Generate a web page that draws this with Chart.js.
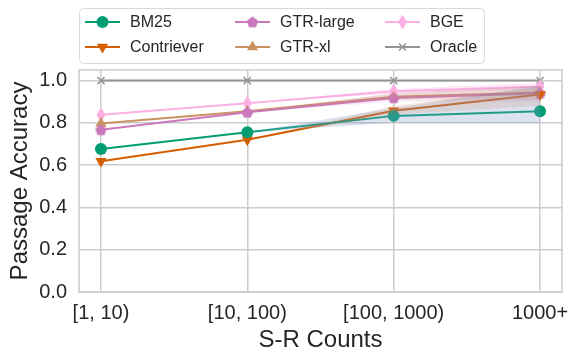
<!DOCTYPE html>
<html>
<head>
<meta charset="utf-8">
<script src="https://cdn.jsdelivr.net/npm/chart.js@4.4.1/dist/chart.umd.min.js"></script>
<style>
  html, body { margin: 0; padding: 0; background: #fff; }
  #wrap { width: 569px; height: 350px; position: relative; }
</style>
</head>
<body>
<div id="wrap"><canvas id="myChart" width="569" height="350"></canvas></div>
<script>
const categories = ['[1, 10)', '[10, 100)', '[100, 1000)', '1000+'];
const yTicks = [0.0, 0.2, 0.4, 0.6, 0.8, 1.0];

const bm25 = [0.676, 0.756, 0.833, 0.855];
const contriever = [0.618, 0.72, 0.857, 0.934];
const gtrLarge = [0.767, 0.85, 0.918, 0.94];
const gtrXl = [0.797, 0.855, 0.923, 0.943];
const bge = [0.838, 0.893, 0.95, 0.972];
const oracle = [1.0, 1.0, 1.0, 1.0];

// confidence bands (lower / upper)
const bm25Lo = [0.676, 0.756, 0.80, 0.80];
const bm25Hi = [0.676, 0.756, 0.87, 0.975];
const contrieverLo = [0.618, 0.72, 0.84, 0.88];
const contrieverHi = [0.618, 0.72, 0.88, 0.97];
const gtrLargeLo = [0.767, 0.85, 0.90, 0.90];
const gtrLargeHi = [0.767, 0.85, 0.94, 0.975];
const gtrXlLo = [0.797, 0.855, 0.91, 0.91];
const gtrXlHi = [0.797, 0.855, 0.94, 0.975];
const bgeLo = [0.838, 0.893, 0.94, 0.955];
const bgeHi = [0.838, 0.893, 0.96, 0.99];

const textColor = '#262626';
const gridColor = '#cccccc';
const fontFamily = '"Liberation Sans", Arial, sans-serif';

function makeMarker(shape, color) {
    const c = document.createElement('canvas');
    let w, h;
    if (shape === 'pentagon') { w = 13; h = 13; } else { w = 10; h = 16; }
    c.width = w; c.height = h;
    const g = c.getContext('2d');
    g.fillStyle = color;
    g.beginPath();
    if (shape === 'pentagon') {
        const r = 6;
        for (let i = 0; i < 5; i++) {
            const a = -Math.PI / 2 + i * 2 * Math.PI / 5;
            const px = w / 2 + r * Math.cos(a);
            const py = h / 2 + 0.5 + r * Math.sin(a);
            if (i === 0) g.moveTo(px, py); else g.lineTo(px, py);
        }
    } else {
        g.moveTo(w / 2, 0.5);
        g.lineTo(w - 0.5, h / 2);
        g.lineTo(w / 2, h - 0.5);
        g.lineTo(0.5, h / 2);
    }
    g.closePath();
    g.fill();
    return c;
}

function pts(arr) {
    return arr.map((v, i) => ({ x: i, y: v }));
}

const series = [
    { label: 'BM25', data: bm25, color: '#029e73', style: 'circle', radius: 6 },
    { label: 'Contriever', data: contriever, color: '#d55e00', style: 'triangle', radius: 6.5, rotation: 180 },
    { label: 'GTR-large', data: gtrLarge, color: '#cc78bc', style: makeMarker('pentagon', '#cc78bc'), radius: 6 },
    { label: 'GTR-xl', data: gtrXl, color: '#ca9161', style: 'triangle', radius: 6.5 },
    { label: 'BGE', data: bge, color: '#fbafe4', style: makeMarker('diamond', '#fbafe4'), radius: 7 },
    { label: 'Oracle', data: oracle, color: '#949494', style: 'crossRot', radius: 5 }
];

const bands = [
    { lo: bm25Lo, hi: bm25Hi, color: 'rgba(130,150,200,0.28)' },
    { lo: contrieverLo, hi: contrieverHi, color: 'rgba(213,94,0,0.14)' },
    { lo: gtrLargeLo, hi: gtrLargeHi, color: 'rgba(204,120,188,0.15)' },
    { lo: gtrXlLo, hi: gtrXlHi, color: 'rgba(202,145,97,0.2)' },
    { lo: bgeLo, hi: bgeHi, color: 'rgba(251,175,228,0.25)' }
];

const datasets = [];
bands.forEach(b => {
    datasets.push({ data: pts(b.lo), borderWidth: 0, pointRadius: 0, fill: false });
    datasets.push({ data: pts(b.hi), borderWidth: 0, pointRadius: 0, fill: '-1', backgroundColor: b.color });
});
series.forEach(s => {
    datasets.push({
        label: s.label,
        data: pts(s.data),
        borderColor: s.color,
        backgroundColor: s.color,
        borderWidth: 2,
        pointStyle: s.style,
        pointRadius: s.radius,
        pointRotation: s.rotation || 0,
        pointBorderWidth: s.style === 'crossRot' ? 1.5 : 0,
        pointBorderColor: s.color,
        pointBackgroundColor: s.color,
        fill: false
    });
});

const framePlugin = {
    id: 'frame',
    afterDraw(chart) {
        const ctx = chart.ctx;
        const a = chart.chartArea;
        ctx.save();
        ctx.strokeStyle = gridColor;
        ctx.lineWidth = 1.5;
        ctx.strokeRect(a.left, a.top, a.right - a.left, a.bottom - a.top);

        // legend box
        const lx = 79, ly = 8, lw = 405, lh = 55;
        ctx.fillStyle = '#fff';
        ctx.strokeStyle = '#d9d9d9';
        ctx.lineWidth = 1;
        ctx.beginPath();
        ctx.roundRect(lx + 0.5, ly + 0.5, lw, lh, 4);
        ctx.fill();
        ctx.stroke();

        const order = [0, 2, 4, 1, 3, 5];
        const colX = [85, 235, 385];
        const rowY = [22, 47];
        ctx.font = '16px ' + fontFamily;
        ctx.textBaseline = 'middle';
        order.forEach((si, k) => {
            const s = series[si];
            const x0 = colX[k % 3];
            const y0 = rowY[Math.floor(k / 3)];
            ctx.strokeStyle = s.color;
            ctx.lineWidth = 2;
            ctx.beginPath();
            ctx.moveTo(x0, y0);
            ctx.lineTo(x0 + 35, y0);
            ctx.stroke();
            ctx.fillStyle = s.color;
            ctx.lineWidth = 1.5;
            Chart.helpers.drawPoint(ctx, {
                pointStyle: s.style,
                radius: s.radius,
                rotation: s.rotation || 0,
                borderWidth: s.style === 'crossRot' ? 1.5 : 0
            }, x0 + 17.5, y0);
            ctx.fillStyle = textColor;
            ctx.fillText(s.label, x0 + 45, y0 + 1);
        });
        ctx.restore();
    }
};

const ctx = document.getElementById('myChart');
new Chart(ctx, {
    type: 'line',
    data: { datasets: datasets },
    options: {
        responsive: false,
        animation: false,
        layout: { padding: { top: 70, right: 6, left: 0, bottom: 0 } },
        plugins: {
            legend: { display: false },
            tooltip: { enabled: false }
        },
        scales: {
            x: {
                type: 'linear',
                min: -0.15,
                max: 3.15,
                afterBuildTicks: s => { s.ticks = categories.map((c, i) => ({ value: i })); },
                afterFit: s => { s.height = 58; s.paddingLeft = 0; s.paddingRight = 0; },
                grid: { color: gridColor, lineWidth: 1.5, drawTicks: false },
                border: { display: false },
                ticks: {
                    padding: 9,
                    color: textColor,
                    font: { family: fontFamily, size: 20 },
                    callback: (v) => categories[v],
                    maxRotation: 0,
                    autoSkip: false
                },
                title: {
                    display: true,
                    text: 'S-R Counts',
                    color: textColor,
                    font: { family: fontFamily, size: 24, lineHeight: 0.75 },
                    padding: { top: 0, bottom: 1 }
                }
            },
            y: {
                min: 0,
                max: 1.05,
                afterBuildTicks: s => { s.ticks = yTicks.map(v => ({ value: v })); },
                afterFit: s => { s.width = 79; s.paddingTop = 0; s.paddingBottom = 0; },
                grid: { color: gridColor, lineWidth: 1.5, drawTicks: false },
                border: { display: false },
                ticks: {
                    padding: 12,
                    color: textColor,
                    font: { family: fontFamily, size: 20 },
                    callback: v => v.toFixed(1)
                },
                title: {
                    display: true,
                    text: 'Passage Accuracy',
                    color: textColor,
                    font: { family: fontFamily, size: 24 },
                    padding: { top: 6, bottom: 0 }
                }
            }
        }
    },
    plugins: [framePlugin]
});
</script>
</body>
</html>
